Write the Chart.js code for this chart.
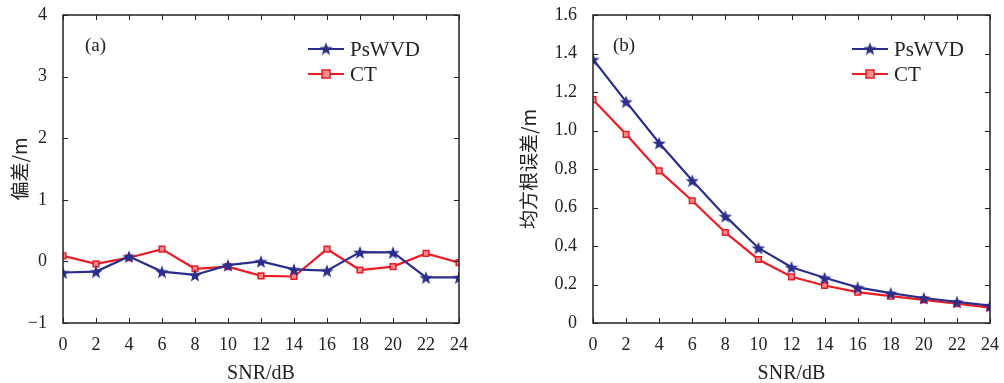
<!DOCTYPE html>
<html>
<head>
<meta charset="utf-8">
<script src="https://cdn.jsdelivr.net/npm/chart.js@4.4.1/dist/chart.umd.min.js"></script>
<style>
  body { margin: 0; background: #fff; }
  .wrap { position: absolute; top: 0; height: 383px; }
  #w1 { left: 0; width: 502px; }
  #w2 { left: 502px; width: 502px; }
</style>
</head>
<body>
<div class="wrap" id="w1"><canvas id="biasChart"></canvas></div>
<div class="wrap" id="w2"><canvas id="rmseChart"></canvas></div>
<script>
const snr = [0, 2, 4, 6, 8, 10, 12, 14, 16, 18, 20, 22, 24];

const biasPsWVD = [-0.18, -0.165, 0.08, -0.165, -0.22, -0.06, 0.0, -0.13, -0.15, 0.15, 0.145, -0.26, -0.26];
const biasCT = [0.09, -0.04, 0.06, 0.2, -0.12, -0.085, -0.235, -0.245, 0.2, -0.14, -0.085, 0.13, -0.02];

const rmsePsWVD = [1.37, 1.15, 0.935, 0.74, 0.555, 0.39, 0.29, 0.235, 0.185, 0.155, 0.13, 0.11, 0.09];
const rmseCT = [1.16, 0.98, 0.79, 0.635, 0.47, 0.33, 0.24, 0.195, 0.16, 0.14, 0.12, 0.1, 0.08];

const blue = "#2b2e8c";
const red = "#ec1c24";
const serif = "'Liberation Serif', 'DejaVu Serif', serif";

function makeStar(size) {
    const c = document.createElement("canvas");
    c.width = size;
    c.height = size;
    const g = c.getContext("2d");
    const cx = size / 2, cy = size / 2 + 0.8, R = size / 2, r = R * 0.42;
    g.beginPath();
    for (let i = 0; i < 10; i++) {
        const a = -Math.PI / 2 + (i * Math.PI) / 5;
        const rad = i % 2 === 0 ? R : r;
        g.lineTo(cx + rad * Math.cos(a), cy + rad * Math.sin(a));
    }
    g.closePath();
    g.fillStyle = blue;
    g.fill();
    return c;
}
const star = makeStar(14);

function seriesSets(a, b) {
    return [
        {
            label: "PsWVD",
            data: a,
            borderColor: blue,
            borderWidth: 2.2,
            pointStyle: star,
            tension: 0,
        },
        {
            label: "CT",
            data: b,
            borderColor: red,
            backgroundColor: "#f58b8f",
            borderWidth: 2.2,
            pointStyle: "rect",
            pointRadius: 4,
            pointBorderWidth: 1.5,
            pointBorderColor: red,
            tension: 0,
        },
    ];
}

// frame, inward ticks, panel label and legend
const framePlugin = {
    id: "frame",
    afterDraw(chart, args, opts) {
        const ctx = chart.ctx;
        const a = chart.chartArea;
        const xs = chart.scales.x, ys = chart.scales.y;
        ctx.save();
        ctx.strokeStyle = "#222";
        ctx.lineWidth = 1.5;
        ctx.strokeRect(a.left, a.top, a.right - a.left, a.bottom - a.top);
        ctx.lineWidth = 1;
        const t = 5;
        xs.ticks.forEach((tk) => {
            const px = Math.round(xs.getPixelForValue(tk.value)) + 0.5;
            ctx.beginPath();
            ctx.moveTo(px, a.bottom); ctx.lineTo(px, a.bottom - t);
            ctx.moveTo(px, a.top); ctx.lineTo(px, a.top + t);
            ctx.stroke();
        });
        ys.ticks.forEach((tk) => {
            const py = Math.round(ys.getPixelForValue(tk.value)) + 0.5;
            ctx.beginPath();
            ctx.moveTo(a.left, py); ctx.lineTo(a.left + t, py);
            ctx.moveTo(a.right, py); ctx.lineTo(a.right - t, py);
            ctx.stroke();
        });
        ctx.fillStyle = "#222";
        ctx.font = "19px " + serif;
        ctx.textBaseline = "middle";
        ctx.fillText(opts.panel, a.left + opts.panelX, a.top + 31);

        const lx = a.left + opts.legendX;
        chart.data.datasets.forEach((ds, i) => {
            const ly = a.top + 34 + i * 25;
            ctx.strokeStyle = ds.borderColor;
            ctx.lineWidth = 2.2;
            ctx.beginPath();
            ctx.moveTo(lx, ly); ctx.lineTo(lx + 36, ly);
            ctx.stroke();
            if (i === 0) {
                ctx.drawImage(star, lx + 18 - 7, ly - 7.5);
            } else {
                ctx.fillStyle = ds.backgroundColor;
                ctx.lineWidth = 1.5;
                ctx.fillRect(lx + 14, ly - 4, 8, 8);
                ctx.strokeRect(lx + 14, ly - 4, 8, 8);
            }
            ctx.fillStyle = "#222";
            ctx.font = "21px " + serif;
            ctx.fillText(ds.label, lx + 42, ly + 1);
        });
        ctx.restore();
    },
};

function makeOptions(yMin, yMax, step, yTitle, yWidth, pad, panel, panelX, legendX, fmt) {
    return {
        responsive: false,
        animation: false,
        layout: { padding: pad },
        plugins: {
            legend: { display: false },
            tooltip: { enabled: false },
            frame: { panel: panel, panelX: panelX, legendX: legendX },
        },
        scales: {
            x: {
                type: "linear",
                min: 0,
                max: 24,
                grid: { display: false },
                border: { display: false },
                ticks: { stepSize: 2, color: "#222", font: { family: serif, size: 18 }, padding: 3 },
                title: { display: true, text: "SNR/dB", color: "#222", font: { family: serif, size: 20 }, padding: { top: 0, bottom: -3 } },
                afterFit(s) { s.height = 60; s.paddingLeft = 0; s.paddingRight = 0; },
            },
            y: {
                min: yMin,
                max: yMax,
                grid: { display: false },
                border: { display: false },
                ticks: {
                    stepSize: step,
                    color: "#222",
                    font: { family: serif, size: 18 },
                    padding: 8,
                    callback: fmt,
                },
                title: {
                    display: true,
                    text: yTitle,
                    color: "#222",
                    font: { family: "'Noto Sans CJK SC', " + serif, size: 19 },
                    padding: 0,
                },
                afterFit(s) { s.width = yWidth; s.paddingTop = 0; s.paddingBottom = 0; },
            },
        },
    };
}

document.addEventListener("DOMContentLoaded", function () {
    const c1 = document.getElementById("biasChart");
    c1.width = 502; c1.height = 383;
    new Chart(c1, {
        type: "line",
        data: { labels: snr, datasets: seriesSets(biasPsWVD, biasCT) },
        options: makeOptions(-1, 4, 1, "偏差/m", 55, { left: 8, top: 15, right: 43, bottom: 0 }, "(a)", 22, 245,
            (v) => (v < 0 ? "\u2212" + Math.abs(v) : String(v))),
        plugins: [framePlugin],
    });

    const c2 = document.getElementById("rmseChart");
    c2.width = 502; c2.height = 383;
    new Chart(c2, {
        type: "line",
        data: { labels: snr, datasets: seriesSets(rmsePsWVD, rmseCT) },
        options: makeOptions(0, 1.6, 0.2, "均方根误差/m", 76, { left: 15, top: 15, right: 14, bottom: 0 }, "(b)", 20, 259,
            (v) => (Math.abs(v) < 1e-9 ? "0" : v.toFixed(1))),
        plugins: [framePlugin],
    });
});
</script>
</body>
</html>
